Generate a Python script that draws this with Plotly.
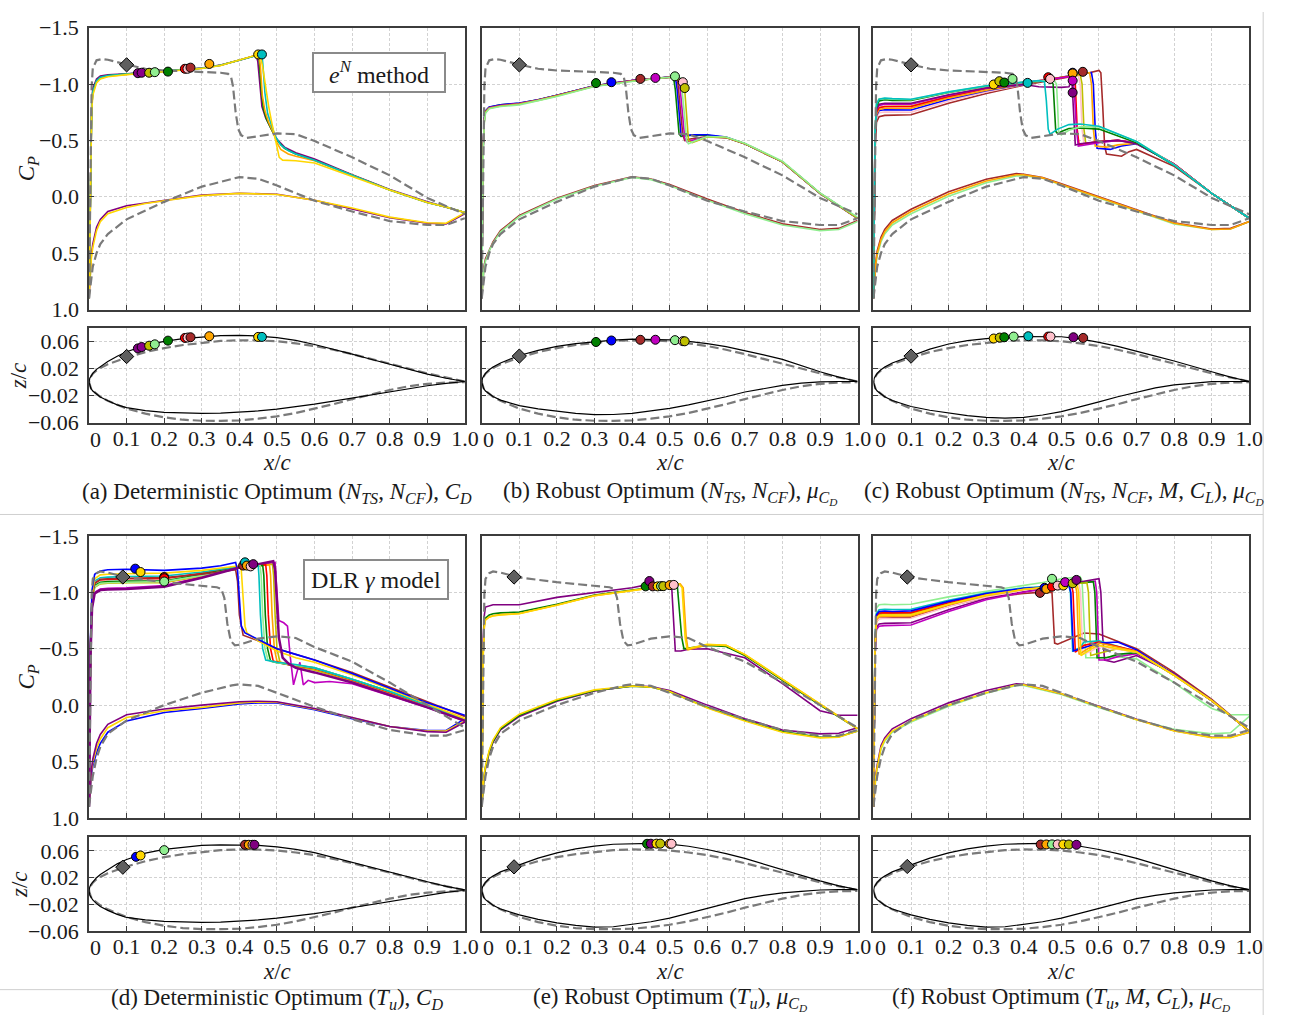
import plotly.graph_objects as go

W, H = 1294, 1028
FONT = "Liberation Serif"

PURPLE = '#800080'; MAGENTA = '#bf00bf'; ORANGE = '#ffa500'; GOLD = '#ffd700'; CYAN = '#00bfbf'
GREEN = '#008000'; LGREEN = '#90ee90'; RED = '#ff0000'; PINK = '#ffc0cb'; BROWN = '#a52a2a'
BLUE = '#0000ff'; OLIVE = '#bfbf00'; DMAG = '#8b008b'; BASEGRAY = '#7a7a7a'

X_TICKS = [0, 0.1, 0.2, 0.3, 0.4, 0.5, 0.6, 0.7, 0.8, 0.9, 1.0]
X_TICK_TEXT = ['', '0.1', '0.2', '0.3', '0.4', '0.5', '0.6', '0.7', '0.8', '0.9', '1.0']
X_ZERO_LABEL = '0'
CP_TICKS = [-1.5, -1.0, -0.5, 0.0, 0.5, 1.0]
CP_TICK_TEXT = ['−1.5', '−1.0', '−0.5', '0.0', '0.5', '1.0']
Z_TICKS = [-0.06, -0.02, 0.02, 0.06]
Z_TICK_TEXT = ['−0.06', '−0.02', '0.02', '0.06']

# ---------------- baseline (dashed) Cp ----------------
TOP_BASE_UP = [(0, 0.9), (0.002, 0.25), (0.004, -0.55), (0.007, -0.98), (0.01, -1.14), (0.02, -1.21), (0.035, -1.222),
               (0.05, -1.215), (0.1, -1.172), (0.15, -1.135), (0.2, -1.12), (0.3, -1.108), (0.35, -1.1), (0.37, -1.09),
               (0.378, -1.06), (0.383, -0.98), (0.39, -0.75), (0.397, -0.6), (0.405, -0.545), (0.42, -0.522),
               (0.45, -0.535), (0.5, -0.562), (0.55, -0.555), (0.6, -0.495), (0.7, -0.35), (0.8, -0.19), (0.9, 0.01),
               (0.95, 0.085), (1.0, 0.155)]
TOP_BASE_LO = [(0, 0.9), (0.003, 0.8), (0.006, 0.7), (0.01, 0.62), (0.02, 0.5), (0.03, 0.42), (0.05, 0.33), (0.1, 0.2),
               (0.2, 0.045), (0.3, -0.09), (0.4, -0.175), (0.45, -0.16), (0.5, -0.1), (0.6, 0.035), (0.7, 0.13),
               (0.8, 0.215), (0.9, 0.25), (0.95, 0.25), (1.0, 0.19)]
BOT_BASE_UP = [(0, 0.9), (0.002, 0.25), (0.004, -0.55), (0.007, -0.98), (0.01, -1.12), (0.02, -1.17), (0.03, -1.185),
               (0.05, -1.175), (0.09, -1.14), (0.1, -1.132), (0.2, -1.09), (0.3, -1.058), (0.34, -1.045), (0.352, -1.03),
               (0.36, -0.95), (0.368, -0.72), (0.377, -0.57), (0.388, -0.53), (0.4, -0.535), (0.45, -0.59), (0.5, -0.61),
               (0.55, -0.595), (0.6, -0.515), (0.7, -0.385), (0.8, -0.2), (0.9, 0.0), (0.95, 0.1), (1.0, 0.2)]
BOT_BASE_LO = [(0, 0.9), (0.003, 0.8), (0.006, 0.7), (0.01, 0.63), (0.02, 0.47), (0.03, 0.37), (0.05, 0.255),
               (0.1, 0.135), (0.2, 0.0), (0.3, -0.11), (0.38, -0.175), (0.4, -0.185), (0.45, -0.17), (0.5, -0.11),
               (0.6, 0.015), (0.7, 0.125), (0.8, 0.22), (0.9, 0.27), (0.95, 0.27), (1.0, 0.22)]

# ---------------- panel (a) ----------------
A_UP_PURPLE = [(0, 0.9), (0.002, 0.3), (0.004, -0.45), (0.007, -0.82), (0.01, -0.96), (0.02, -1.045), (0.03, -1.07),
               (0.05, -1.082), (0.1, -1.09), (0.15, -1.1), (0.2, -1.112), (0.3, -1.142), (0.35, -1.168), (0.4, -1.21),
               (0.445, -1.255), (0.449, -1.2), (0.454, -0.98), (0.46, -0.8), (0.47, -0.7), (0.48, -0.63), (0.49, -0.57),
               (0.5, -0.51), (0.52, -0.44), (0.55, -0.39), (0.6, -0.335), (0.7, -0.195), (0.8, -0.065), (0.9, 0.045),
               (0.95, 0.09), (1.0, 0.14)]
A_UP_GREEN = [(0, 0.9), (0.002, 0.3), (0.004, -0.4), (0.007, -0.78), (0.01, -0.93), (0.02, -1.03), (0.03, -1.06),
              (0.05, -1.075), (0.1, -1.088), (0.15, -1.1), (0.2, -1.11), (0.3, -1.14), (0.35, -1.166), (0.4, -1.21),
              (0.45, -1.258), (0.453, -1.2), (0.458, -0.95), (0.464, -0.78), (0.472, -0.69), (0.482, -0.62),
              (0.49, -0.57), (0.5, -0.5), (0.52, -0.43), (0.55, -0.38), (0.6, -0.325), (0.7, -0.19), (0.8, -0.06),
              (0.9, 0.05), (0.95, 0.09), (1.0, 0.14)]
A_UP_ORANGE = [(0, 0.9), (0.002, 0.3), (0.004, -0.4), (0.007, -0.78), (0.01, -0.92), (0.02, -1.02), (0.03, -1.05),
               (0.05, -1.07), (0.1, -1.085), (0.15, -1.1), (0.2, -1.11), (0.3, -1.14), (0.35, -1.165), (0.4, -1.21),
               (0.452, -1.262), (0.456, -1.15), (0.461, -0.9), (0.468, -0.76), (0.478, -0.66), (0.49, -0.57),
               (0.5, -0.48), (0.51, -0.42), (0.53, -0.38), (0.55, -0.36), (0.6, -0.32), (0.7, -0.19), (0.8, -0.06),
               (0.9, 0.05), (0.95, 0.09), (1.0, 0.14)]
A_UP_CYAN = [(0, 0.9), (0.002, 0.3), (0.004, -0.4), (0.007, -0.78), (0.01, -0.93), (0.02, -1.03), (0.03, -1.06),
             (0.05, -1.075), (0.1, -1.088), (0.15, -1.1), (0.2, -1.11), (0.3, -1.14), (0.35, -1.166), (0.4, -1.21),
             (0.46, -1.265), (0.463, -1.15), (0.468, -0.92), (0.475, -0.74), (0.485, -0.63), (0.495, -0.54),
             (0.51, -0.46), (0.53, -0.41), (0.55, -0.38), (0.6, -0.325), (0.7, -0.19), (0.8, -0.06), (0.9, 0.05),
             (0.95, 0.09), (1.0, 0.14)]
A_UP_GOLD = [(0, 0.9), (0.002, 0.3), (0.004, -0.38), (0.007, -0.75), (0.01, -0.9), (0.02, -1.01), (0.03, -1.045),
             (0.05, -1.065), (0.1, -1.083), (0.15, -1.098), (0.2, -1.108), (0.3, -1.138), (0.35, -1.164), (0.4, -1.21),
             (0.455, -1.265), (0.462, -1.15), (0.47, -0.95), (0.478, -0.8), (0.486, -0.66), (0.494, -0.53),
             (0.5, -0.42), (0.506, -0.35), (0.515, -0.325), (0.55, -0.32), (0.6, -0.3), (0.7, -0.18), (0.8, -0.06),
             (0.9, 0.05), (0.95, 0.09), (1.0, 0.14)]
A_LO_GOLD = [(0, 0.9), (0.003, 0.7), (0.006, 0.55), (0.01, 0.45), (0.02, 0.3), (0.03, 0.22), (0.05, 0.15), (0.1, 0.095),
             (0.15, 0.06), (0.2, 0.035), (0.3, -0.01), (0.4, -0.03), (0.5, -0.02), (0.6, 0.03), (0.7, 0.1), (0.8, 0.18),
             (0.9, 0.23), (0.95, 0.235), (1.0, 0.14)]
A_LO_PURPLE = [(0, 0.9), (0.003, 0.68), (0.006, 0.52), (0.01, 0.42), (0.02, 0.27), (0.03, 0.2), (0.05, 0.13),
               (0.1, 0.08), (0.15, 0.055), (0.2, 0.03), (0.3, -0.015), (0.4, -0.032), (0.5, -0.022), (0.6, 0.03),
               (0.7, 0.105), (0.8, 0.185), (0.9, 0.235), (0.95, 0.24), (1.0, 0.15)]
A_MK_X = [0.13, 0.14, 0.16, 0.175, 0.21, 0.255, 0.262, 0.27, 0.32, 0.45, 0.46]
A_MK_CP = [-1.096, -1.1, -1.1, -1.105, -1.11, -1.135, -1.135, -1.145, -1.178, -1.262, -1.262]
A_MK_Z = [0.05, 0.052, 0.054, 0.056, 0.0615, 0.0655, 0.066, 0.0665, 0.068, 0.067, 0.067]
A_MK_C = [PURPLE, DMAG, OLIVE, LGREEN, GREEN, RED, PINK, BROWN, ORANGE, GOLD, CYAN]
A_DIA = (0.1, -1.17, 0.038)

# ---------------- panel (b) ----------------
B_UP_GREEN = [(0, 0.9), (0.002, 0.2), (0.004, -0.45), (0.007, -0.7), (0.01, -0.76), (0.02, -0.795), (0.05, -0.815),
              (0.1, -0.83), (0.15, -0.86), (0.2, -0.9), (0.3, -0.985), (0.4, -1.03), (0.45, -1.045), (0.5, -1.06),
              (0.51, -1.065), (0.515, -0.95), (0.52, -0.75), (0.525, -0.56), (0.53, -0.535), (0.56, -0.545),
              (0.6, -0.545), (0.65, -0.525), (0.7, -0.47), (0.8, -0.31), (0.9, -0.03), (0.95, 0.08), (1.0, 0.19)]
B_UP_BLUE = [(0, 0.9), (0.002, 0.2), (0.004, -0.45), (0.007, -0.7), (0.01, -0.762), (0.02, -0.797), (0.05, -0.816),
             (0.1, -0.831), (0.15, -0.861), (0.2, -0.9), (0.3, -0.985), (0.4, -1.03), (0.45, -1.045), (0.5, -1.06),
             (0.515, -1.065), (0.52, -0.95), (0.525, -0.75), (0.53, -0.56), (0.535, -0.54), (0.56, -0.55),
             (0.6, -0.55), (0.65, -0.53), (0.7, -0.47), (0.8, -0.31), (0.9, -0.03), (0.95, 0.08), (1.0, 0.19)]
B_UP_BROWN = [(0, 0.9), (0.002, 0.2), (0.004, -0.45), (0.007, -0.69), (0.01, -0.755), (0.02, -0.79), (0.05, -0.81),
              (0.1, -0.826), (0.15, -0.858), (0.2, -0.898), (0.3, -0.983), (0.4, -1.03), (0.45, -1.045), (0.5, -1.06),
              (0.52, -1.065), (0.525, -0.9), (0.53, -0.7), (0.535, -0.55), (0.54, -0.5), (0.55, -0.51), (0.6, -0.535),
              (0.65, -0.525), (0.7, -0.47), (0.8, -0.31), (0.9, -0.03), (0.95, 0.08), (1.0, 0.19)]
B_UP_MAGENTA = [(0, 0.9), (0.002, 0.2), (0.004, -0.45), (0.007, -0.69), (0.01, -0.755), (0.02, -0.79), (0.05, -0.81),
                (0.1, -0.826), (0.15, -0.858), (0.2, -0.898), (0.3, -0.983), (0.4, -1.03), (0.45, -1.047),
                (0.5, -1.062), (0.525, -1.065), (0.53, -0.9), (0.535, -0.7), (0.54, -0.52), (0.545, -0.49),
                (0.56, -0.5), (0.6, -0.53), (0.65, -0.525), (0.7, -0.47), (0.8, -0.31), (0.9, -0.03), (0.95, 0.08),
                (1.0, 0.19)]
B_UP_LGREEN = [(0, 0.9), (0.002, 0.2), (0.004, -0.42), (0.007, -0.66), (0.01, -0.74), (0.02, -0.78), (0.05, -0.8),
               (0.1, -0.815), (0.15, -0.85), (0.2, -0.89), (0.3, -0.978), (0.4, -1.025), (0.45, -1.045), (0.5, -1.06),
               (0.515, -1.07), (0.53, -1.05), (0.535, -0.9), (0.54, -0.7), (0.545, -0.5), (0.55, -0.47), (0.57, -0.5),
               (0.6, -0.535), (0.65, -0.53), (0.7, -0.475), (0.8, -0.315), (0.9, -0.035), (0.95, 0.075), (1.0, 0.18)]
B_UP_OLIVE = [(0, 0.9), (0.002, 0.2), (0.004, -0.44), (0.007, -0.68), (0.01, -0.75), (0.02, -0.785), (0.05, -0.805),
              (0.1, -0.822), (0.15, -0.855), (0.2, -0.895), (0.3, -0.98), (0.4, -1.027), (0.45, -1.045), (0.5, -1.06),
              (0.52, -1.05), (0.53, -1.02), (0.54, -0.95), (0.545, -0.7), (0.55, -0.5), (0.56, -0.48), (0.6, -0.53),
              (0.65, -0.525), (0.7, -0.47), (0.8, -0.31), (0.9, -0.03), (0.95, 0.08), (1.0, 0.19)]
B_LO_MAIN = [(0, 0.9), (0.003, 0.74), (0.006, 0.62), (0.01, 0.55), (0.02, 0.47), (0.03, 0.4), (0.05, 0.3), (0.1, 0.165),
             (0.2, 0.012), (0.3, -0.1), (0.4, -0.178), (0.45, -0.158), (0.5, -0.11), (0.6, 0.02), (0.7, 0.14),
             (0.8, 0.24), (0.9, 0.29), (0.95, 0.28), (1.0, 0.21)]
B_LO_LGREEN = [(0, 0.9), (0.003, 0.75), (0.006, 0.64), (0.01, 0.57), (0.02, 0.48), (0.03, 0.41), (0.05, 0.31),
               (0.1, 0.175), (0.2, 0.02), (0.3, -0.093), (0.4, -0.172), (0.45, -0.152), (0.5, -0.1), (0.6, 0.03),
               (0.7, 0.15), (0.8, 0.25), (0.9, 0.3), (0.95, 0.29), (1.0, 0.22)]
B_MK_X = [0.304, 0.345, 0.422, 0.462, 0.514, 0.535, 0.54]
B_MK_CP = [-1.008, -1.016, -1.045, -1.054, -1.068, -1.016, -0.964]
B_MK_Z = [0.0595, 0.0617, 0.0627, 0.0628, 0.0622, 0.0607, 0.0605]
B_MK_C = [GREEN, BLUE, BROWN, MAGENTA, LGREEN, PINK, OLIVE]
B_DIA = (0.1, -1.17, 0.0386)

# ---------------- panel (c) ----------------
C_UP_CYAN = [(0, 0.9), (0.002, 0.2), (0.004, -0.55), (0.008, -0.82), (0.015, -0.865), (0.03, -0.875), (0.05, -0.87),
             (0.1, -0.865), (0.2, -0.93), (0.3, -0.985), (0.4, -1.02), (0.44, -1.03), (0.455, -1.02), (0.46, -0.85),
             (0.465, -0.6), (0.47, -0.555), (0.49, -0.6), (0.52, -0.64), (0.55, -0.645), (0.6, -0.625), (0.7, -0.49),
             (0.8, -0.28), (0.9, -0.03), (1.0, 0.19)]
C_UP_GREEN = [(0, 0.9), (0.002, 0.2), (0.004, -0.5), (0.008, -0.8), (0.015, -0.85), (0.03, -0.86), (0.05, -0.855),
              (0.1, -0.855), (0.2, -0.925), (0.3, -0.98), (0.4, -1.015), (0.45, -1.025), (0.47, -1.03), (0.478, -1.0),
              (0.482, -0.8), (0.485, -0.58), (0.49, -0.56), (0.5, -0.58), (0.52, -0.605), (0.55, -0.61), (0.6, -0.6),
              (0.7, -0.48), (0.8, -0.28), (0.9, -0.03), (1.0, 0.19)]
C_UP_LGREEN = [(0, 0.9), (0.002, 0.2), (0.004, -0.55), (0.008, -0.83), (0.015, -0.87), (0.03, -0.872),
               (0.05, -0.866), (0.1, -0.86), (0.2, -0.928), (0.3, -0.982), (0.4, -1.018), (0.45, -1.03), (0.48, -1.035),
               (0.487, -1.0), (0.49, -0.8), (0.493, -0.56), (0.5, -0.55), (0.52, -0.59), (0.55, -0.62), (0.6, -0.62),
               (0.7, -0.49), (0.8, -0.285), (0.9, -0.03), (1.0, 0.19)]
C_UP_PURPLE = [(0, 0.9), (0.002, 0.2), (0.004, -0.5), (0.008, -0.78), (0.015, -0.82), (0.03, -0.83), (0.05, -0.83),
               (0.1, -0.83), (0.2, -0.905), (0.3, -0.965), (0.4, -0.995), (0.44, -0.975), (0.5, -0.97), (0.52, -0.975),
               (0.528, -1.03), (0.532, -0.8), (0.537, -0.46), (0.55, -0.47), (0.6, -0.49), (0.65, -0.5), (0.7, -0.47),
               (0.8, -0.29), (0.9, -0.03), (1.0, 0.19)]
C_UP_MAGENTA = [(0, 0.9), (0.002, 0.2), (0.004, -0.5), (0.008, -0.77), (0.015, -0.81), (0.03, -0.82), (0.05, -0.82),
                (0.1, -0.82), (0.2, -0.9), (0.3, -0.965), (0.4, -1.01), (0.45, -1.035), (0.5, -1.06), (0.53, -1.07),
                (0.535, -0.9), (0.54, -0.6), (0.545, -0.45), (0.56, -0.46), (0.6, -0.48), (0.65, -0.5), (0.7, -0.48),
                (0.8, -0.29), (0.9, -0.03), (1.0, 0.19)]
C_UP_RED = [(0, 0.9), (0.002, 0.2), (0.004, -0.48), (0.008, -0.75), (0.015, -0.79), (0.03, -0.8), (0.05, -0.8),
            (0.1, -0.8), (0.2, -0.89), (0.3, -0.96), (0.4, -1.008), (0.45, -1.035), (0.5, -1.06), (0.53, -1.072),
            (0.537, -1.0), (0.542, -0.6), (0.547, -0.46), (0.56, -0.47), (0.6, -0.49), (0.65, -0.5), (0.7, -0.48),
            (0.8, -0.29), (0.9, -0.03), (1.0, 0.19)]
C_UP_OLIVE = [(0, 0.9), (0.002, 0.2), (0.004, -0.48), (0.008, -0.75), (0.015, -0.79), (0.03, -0.8), (0.05, -0.8),
              (0.1, -0.805), (0.2, -0.89), (0.3, -0.96), (0.4, -1.008), (0.45, -1.035), (0.5, -1.06), (0.55, -1.085),
              (0.555, -1.0), (0.56, -0.6), (0.565, -0.47), (0.6, -0.49), (0.65, -0.5), (0.7, -0.475), (0.8, -0.29),
              (0.9, -0.03), (1.0, 0.19)]
C_UP_ORANGE = [(0, 0.9), (0.002, 0.2), (0.004, -0.46), (0.008, -0.73), (0.015, -0.775), (0.03, -0.785),
               (0.05, -0.785), (0.1, -0.786), (0.2, -0.875), (0.3, -0.944), (0.4, -1.0), (0.45, -1.03), (0.5, -1.06),
               (0.55, -1.09), (0.575, -1.1), (0.58, -1.0), (0.585, -0.6), (0.59, -0.45), (0.62, -0.44), (0.65, -0.46),
               (0.7, -0.475), (0.8, -0.29), (0.9, -0.03), (1.0, 0.19)]
C_UP_BLUE = [(0, 0.9), (0.002, 0.2), (0.004, -0.45), (0.008, -0.72), (0.015, -0.765), (0.03, -0.772), (0.05, -0.77),
             (0.1, -0.77), (0.2, -0.865), (0.3, -0.94), (0.4, -0.998), (0.45, -1.03), (0.5, -1.06), (0.55, -1.09),
             (0.58, -1.1), (0.585, -1.0), (0.59, -0.6), (0.595, -0.43), (0.63, -0.42), (0.66, -0.45), (0.7, -0.47),
             (0.8, -0.29), (0.9, -0.03), (1.0, 0.19)]
C_UP_PINK = [(0, 0.9), (0.002, 0.2), (0.004, -0.43), (0.008, -0.7), (0.015, -0.745), (0.03, -0.752), (0.05, -0.75),
             (0.1, -0.75), (0.2, -0.85), (0.3, -0.93), (0.4, -0.995), (0.45, -1.03), (0.5, -1.06), (0.545, -1.08),
             (0.55, -1.0), (0.555, -0.6), (0.56, -0.47), (0.6, -0.49), (0.65, -0.5), (0.7, -0.475), (0.8, -0.29),
             (0.9, -0.03), (1.0, 0.19)]
C_UP_BROWN = [(0, 0.9), (0.002, 0.2), (0.004, -0.4), (0.008, -0.66), (0.015, -0.71), (0.03, -0.722), (0.05, -0.725),
              (0.1, -0.728), (0.2, -0.83), (0.3, -0.915), (0.4, -0.99), (0.5, -1.05), (0.55, -1.08), (0.6, -1.12),
              (0.605, -1.1), (0.61, -0.8), (0.615, -0.45), (0.62, -0.38), (0.64, -0.37), (0.66, -0.36), (0.68, -0.4),
              (0.7, -0.42), (0.8, -0.27), (0.9, -0.03), (1.0, 0.19)]
C_LO_GOLD = [(0, 0.9), (0.003, 0.72), (0.006, 0.6), (0.01, 0.5), (0.02, 0.38), (0.03, 0.31), (0.05, 0.23),
             (0.1, 0.13), (0.2, -0.025), (0.3, -0.14), (0.38, -0.195), (0.4, -0.195), (0.45, -0.168), (0.5, -0.11),
             (0.6, 0.005), (0.7, 0.12), (0.8, 0.235), (0.9, 0.29), (0.95, 0.285), (1.0, 0.22)]
C_LO_BROWN = [(0, 0.9), (0.003, 0.7), (0.006, 0.58), (0.01, 0.48), (0.02, 0.36), (0.03, 0.29), (0.05, 0.21),
              (0.1, 0.11), (0.2, -0.045), (0.3, -0.155), (0.38, -0.205), (0.4, -0.2), (0.45, -0.17), (0.5, -0.115),
              (0.6, 0.0), (0.7, 0.115), (0.8, 0.23), (0.9, 0.285), (0.95, 0.28), (1.0, 0.22)]
C_LO_LGREEN = [(0, 0.9), (0.003, 0.74), (0.006, 0.62), (0.01, 0.52), (0.02, 0.4), (0.03, 0.33), (0.05, 0.25),
               (0.1, 0.15), (0.2, -0.005), (0.3, -0.125), (0.38, -0.185), (0.4, -0.188), (0.45, -0.165), (0.5, -0.105),
               (0.6, 0.01), (0.7, 0.125), (0.8, 0.24), (0.9, 0.29), (0.95, 0.285), (1.0, 0.22)]
C_MK_X = [0.32, 0.335, 0.348, 0.37, 0.41, 0.465, 0.47, 0.53, 0.53, 0.53, 0.53, 0.557]
C_MK_CP = [-0.996, -1.025, -1.013, -1.045, -1.01, -1.06, -1.045, -1.1, -1.094, -1.03, -0.924, -1.108]
C_MK_C = [GOLD, OLIVE, GREEN, LGREEN, CYAN, RED, PINK, BLUE, ORANGE, MAGENTA, PURPLE, BROWN]
C_MKZ_X = [0.32, 0.336, 0.348, 0.373, 0.412, 0.465, 0.471, 0.532, 0.558]
C_MKZ_Z = [0.0646, 0.066, 0.0665, 0.0675, 0.068, 0.0675, 0.0675, 0.0665, 0.0655]
C_MKZ_C = [GOLD, OLIVE, GREEN, LGREEN, CYAN, RED, PINK, PURPLE, BROWN]
C_DIA = (0.1, -1.17, 0.0386)

# ---------------- panel (d) ----------------
D_UP_BLUE = [(0, 0.9), (0.002, 0.2), (0.004, -0.6), (0.008, -1.02), (0.015, -1.16), (0.03, -1.19), (0.05, -1.2),
             (0.1, -1.205), (0.2, -1.195), (0.3, -1.215), (0.35, -1.235), (0.39, -1.265), (0.395, -1.2), (0.4, -0.95),
             (0.405, -0.7), (0.415, -0.64), (0.45, -0.58), (0.5, -0.5), (0.55, -0.45), (0.6, -0.4), (0.7, -0.28),
             (0.8, -0.15), (0.9, -0.02), (1.0, 0.09)]
D_UP_GOLD = [(0, 0.9), (0.002, 0.2), (0.004, -0.55), (0.008, -0.98), (0.015, -1.12), (0.03, -1.155), (0.05, -1.16),
             (0.1, -1.165), (0.2, -1.17), (0.3, -1.195), (0.35, -1.215), (0.4, -1.235), (0.405, -1.2), (0.41, -0.95),
             (0.415, -0.7), (0.42, -0.64), (0.45, -0.57), (0.5, -0.48), (0.55, -0.42), (0.6, -0.38), (0.7, -0.27),
             (0.8, -0.14), (0.9, -0.01), (1.0, 0.12)]
D_UP_BROWN = [(0, 0.9), (0.002, 0.2), (0.004, -0.55), (0.008, -0.95), (0.015, -1.08), (0.03, -1.115), (0.05, -1.12),
              (0.1, -1.125), (0.2, -1.13), (0.3, -1.16), (0.35, -1.18), (0.39, -1.2), (0.395, -1.1), (0.4, -0.8),
              (0.41, -0.62), (0.45, -0.57), (0.5, -0.5), (0.6, -0.4), (0.7, -0.29), (0.8, -0.16), (0.9, -0.03),
              (1.0, 0.1)]
D_UP_CYAN = [(0, 0.9), (0.002, 0.2), (0.004, -0.55), (0.008, -0.96), (0.015, -1.1), (0.03, -1.13), (0.05, -1.135),
             (0.1, -1.14), (0.2, -1.145), (0.3, -1.18), (0.4, -1.23), (0.45, -1.24), (0.452, -1.15), (0.456, -0.8),
             (0.462, -0.5), (0.47, -0.4), (0.5, -0.38), (0.55, -0.36), (0.6, -0.33), (0.7, -0.23), (0.8, -0.12),
             (0.9, 0.0), (1.0, 0.13)]
D_UP_LGREEN = [(0, 0.9), (0.002, 0.2), (0.004, -0.5), (0.008, -0.92), (0.015, -1.05), (0.03, -1.08), (0.05, -1.085),
               (0.1, -1.09), (0.2, -1.095), (0.3, -1.15), (0.4, -1.215), (0.455, -1.24), (0.458, -1.15), (0.462, -0.8),
               (0.468, -0.5), (0.476, -0.4), (0.5, -0.375), (0.6, -0.33), (0.7, -0.23), (0.8, -0.12), (0.9, 0.0),
               (1.0, 0.13)]
D_UP_GREEN = [(0, 0.9), (0.002, 0.2), (0.004, -0.52), (0.008, -0.93), (0.015, -1.06), (0.03, -1.09), (0.05, -1.095),
              (0.1, -1.1), (0.2, -1.1), (0.3, -1.16), (0.4, -1.22), (0.462, -1.24), (0.465, -1.15), (0.469, -0.8),
              (0.475, -0.5), (0.483, -0.39), (0.5, -0.375), (0.6, -0.33), (0.7, -0.23), (0.8, -0.12), (0.9, 0.0),
              (1.0, 0.13)]
D_UP_RED = [(0, 0.9), (0.002, 0.2), (0.004, -0.53), (0.008, -0.94), (0.015, -1.08), (0.03, -1.11), (0.05, -1.115),
            (0.1, -1.12), (0.2, -1.12), (0.3, -1.17), (0.4, -1.225), (0.47, -1.245), (0.473, -1.15), (0.477, -0.8),
            (0.483, -0.5), (0.49, -0.39), (0.52, -0.365), (0.6, -0.325), (0.7, -0.225), (0.8, -0.115), (0.9, 0.0),
            (1.0, 0.13)]
D_UP_ORANGE = [(0, 0.9), (0.002, 0.2), (0.004, -0.5), (0.008, -0.92), (0.015, -1.05), (0.03, -1.08), (0.05, -1.085),
               (0.1, -1.09), (0.2, -1.09), (0.3, -1.15), (0.4, -1.215), (0.48, -1.245), (0.483, -1.15), (0.487, -0.8),
               (0.493, -0.5), (0.5, -0.39), (0.53, -0.36), (0.6, -0.32), (0.7, -0.22), (0.8, -0.11), (0.9, 0.005),
               (1.0, 0.13)]
D_UP_OLIVE = [(0, 0.9), (0.002, 0.2), (0.004, -0.5), (0.008, -0.91), (0.015, -1.045), (0.03, -1.075), (0.05, -1.08),
              (0.1, -1.085), (0.2, -1.085), (0.3, -1.145), (0.4, -1.215), (0.488, -1.25), (0.491, -1.15),
              (0.495, -0.8), (0.5, -0.5), (0.508, -0.38), (0.54, -0.35), (0.6, -0.31), (0.7, -0.215), (0.8, -0.105),
              (0.9, 0.01), (1.0, 0.13)]
D_UP_PURPLE = [(0, 0.9), (0.002, 0.2), (0.004, -0.45), (0.008, -0.86), (0.015, -0.99), (0.03, -1.02), (0.05, -1.025),
               (0.1, -1.03), (0.2, -1.05), (0.3, -1.13), (0.4, -1.22), (0.45, -1.25), (0.49, -1.275), (0.495, -1.2),
               (0.5, -0.9), (0.505, -0.6), (0.515, -0.42), (0.53, -0.37), (0.55, -0.33), (0.6, -0.29), (0.7, -0.2),
               (0.8, -0.09), (0.9, 0.02), (1.0, 0.14)]
D_UP_MAGENTA = [(0, 0.9), (0.002, 0.2), (0.004, -0.46), (0.008, -0.87), (0.015, -1.0), (0.03, -1.03), (0.05, -1.035),
                (0.1, -1.04), (0.2, -1.06), (0.3, -1.135), (0.4, -1.22), (0.45, -1.245), (0.495, -1.265), (0.5, -1.0),
                (0.505, -0.75), (0.518, -0.73), (0.528, -0.7), (0.535, -0.44), (0.544, -0.18), (0.553, -0.29),
                (0.561, -0.38), (0.57, -0.18), (0.583, -0.22), (0.6, -0.2), (0.64, -0.21), (0.7, -0.19), (0.8, -0.085),
                (0.9, 0.02), (1.0, 0.14)]
D_LO_BLUE = [(0, 0.9), (0.003, 0.76), (0.006, 0.63), (0.01, 0.54), (0.02, 0.42), (0.03, 0.34), (0.05, 0.24),
             (0.1, 0.14), (0.2, 0.065), (0.3, 0.03), (0.4, -0.01), (0.45, -0.02), (0.5, -0.02), (0.6, 0.04), (0.7, 0.12),
             (0.8, 0.19), (0.9, 0.225), (0.95, 0.225), (1.0, 0.12)]
D_LO_GOLD = [(0, 0.9), (0.003, 0.74), (0.006, 0.6), (0.01, 0.51), (0.02, 0.38), (0.03, 0.3), (0.05, 0.2), (0.1, 0.11),
             (0.2, 0.05), (0.3, 0.02), (0.4, -0.02), (0.45, -0.028), (0.5, -0.025), (0.6, 0.035), (0.7, 0.115),
             (0.8, 0.19), (0.9, 0.23), (0.95, 0.23), (1.0, 0.14)]
D_LO_PURPLE = [(0, 0.9), (0.003, 0.72), (0.006, 0.58), (0.01, 0.48), (0.02, 0.34), (0.03, 0.26), (0.05, 0.17),
               (0.1, 0.085), (0.2, 0.035), (0.3, 0.0), (0.4, -0.03), (0.45, -0.035), (0.5, -0.03), (0.6, 0.03),
               (0.7, 0.11), (0.8, 0.19), (0.9, 0.235), (0.95, 0.24), (1.0, 0.15)]
D_MK_X = [0.123, 0.137, 0.2, 0.2, 0.2, 0.41, 0.415, 0.42, 0.43, 0.437]
D_MK_CP = [-1.21, -1.18, -1.136, -1.125, -1.096, -1.237, -1.266, -1.237, -1.23, -1.25]
D_MK_C = [BLUE, GOLD, BROWN, RED, LGREEN, BROWN, CYAN, ORANGE, PINK, PURPLE]
D_MKZ_X = [0.125, 0.137, 0.2, 0.415, 0.425, 0.435, 0.44]
D_MKZ_Z = [0.051, 0.053, 0.061, 0.069, 0.069, 0.069, 0.069]
D_MKZ_C = [BLUE, GOLD, LGREEN, BROWN, ORANGE, PINK, PURPLE]
D_DIA = (0.09, -1.136, 0.0355)

# ---------------- panel (e) ----------------
E_UP_GOLD = [(0, 0.9), (0.002, 0.2), (0.004, -0.45), (0.007, -0.7), (0.01, -0.755), (0.02, -0.78), (0.03, -0.79),
             (0.05, -0.8), (0.1, -0.81), (0.2, -0.885), (0.3, -0.97), (0.4, -1.015), (0.45, -1.04), (0.5, -1.065),
             (0.525, -1.075), (0.533, -1.04), (0.537, -0.85), (0.541, -0.6), (0.546, -0.5), (0.56, -0.51),
             (0.6, -0.54), (0.65, -0.53), (0.7, -0.45), (0.8, -0.23), (0.9, -0.01), (1.0, 0.21)]
E_UP_ORANGE = [(0, 0.9), (0.002, 0.2), (0.004, -0.45), (0.007, -0.7), (0.01, -0.757), (0.02, -0.782),
               (0.03, -0.792), (0.05, -0.802), (0.1, -0.812), (0.2, -0.887), (0.3, -0.971), (0.4, -1.016),
               (0.45, -1.041), (0.5, -1.066), (0.528, -1.075), (0.536, -1.04), (0.54, -0.85), (0.544, -0.6),
               (0.549, -0.49), (0.56, -0.5), (0.6, -0.535), (0.65, -0.53), (0.7, -0.448), (0.8, -0.228), (0.9, -0.01),
               (1.0, 0.21)]
E_UP_GREEN = [(0, 0.9), (0.002, 0.2), (0.004, -0.47), (0.007, -0.72), (0.01, -0.77), (0.02, -0.8), (0.03, -0.81),
              (0.05, -0.818), (0.1, -0.825), (0.2, -0.895), (0.3, -0.975), (0.4, -1.02), (0.45, -1.045), (0.5, -1.065),
              (0.52, -1.07), (0.525, -0.9), (0.532, -0.6), (0.538, -0.5), (0.56, -0.51), (0.6, -0.53), (0.65, -0.52),
              (0.7, -0.44), (0.8, -0.22), (0.9, 0.0), (1.0, 0.21)]
E_UP_PURPLE = [(0, 0.9), (0.002, 0.2), (0.004, -0.6), (0.007, -0.8), (0.01, -0.87), (0.03, -0.89), (0.1, -0.89),
               (0.2, -0.955), (0.3, -1.0), (0.4, -1.04), (0.45, -1.075), (0.5, -1.08), (0.505, -1.07), (0.51, -0.8),
               (0.515, -0.48), (0.53, -0.48), (0.55, -0.495), (0.6, -0.5), (0.7, -0.42), (0.8, -0.19), (0.9, 0.05),
               (0.95, 0.09), (1.0, 0.09)]
E_LO_GOLD = [(0, 0.9), (0.003, 0.75), (0.006, 0.63), (0.01, 0.54), (0.02, 0.4), (0.03, 0.31), (0.05, 0.2), (0.1, 0.08),
             (0.2, -0.05), (0.3, -0.135), (0.4, -0.17), (0.45, -0.16), (0.5, -0.12), (0.6, 0.025), (0.7, 0.14),
             (0.8, 0.24), (0.9, 0.29), (0.95, 0.285), (1.0, 0.23)]
E_LO_GREEN = [(0, 0.9), (0.003, 0.755), (0.006, 0.64), (0.01, 0.55), (0.02, 0.41), (0.03, 0.32), (0.05, 0.21),
              (0.1, 0.09), (0.2, -0.042), (0.3, -0.13), (0.4, -0.168), (0.45, -0.16), (0.5, -0.118), (0.6, 0.02),
              (0.7, 0.135), (0.8, 0.235), (0.9, 0.285), (0.95, 0.28), (1.0, 0.23)]
E_LO_PURPLE = [(0, 0.9), (0.003, 0.76), (0.006, 0.65), (0.01, 0.56), (0.02, 0.42), (0.03, 0.33), (0.05, 0.22),
               (0.1, 0.1), (0.2, -0.035), (0.3, -0.125), (0.4, -0.17), (0.45, -0.165), (0.5, -0.13), (0.6, 0.0),
               (0.7, 0.12), (0.8, 0.22), (0.9, 0.255), (0.95, 0.25), (1.0, 0.2)]
E_MK_X = [0.436, 0.446, 0.455, 0.468, 0.477, 0.483, 0.5, 0.511]
E_MK_CP = [-1.053, -1.1, -1.053, -1.053, -1.055, -1.055, -1.064, -1.066]
E_MK_C = [GREEN, PURPLE, BROWN, GOLD, LGREEN, OLIVE, ORANGE, PINK]
E_MKZ_X = [0.44, 0.45, 0.465, 0.475, 0.5, 0.505]
E_MKZ_Z = [0.0705, 0.0706, 0.0707, 0.0707, 0.0705, 0.0705]
E_MKZ_C = [GREEN, PURPLE, GOLD, OLIVE, ORANGE, PINK]
E_DIA = (0.086, -1.136, 0.036)

# ---------------- panel (f) ----------------
F_UP_LGREEN = [(0, 0.9), (0.002, 0.2), (0.004, -0.6), (0.008, -0.86), (0.015, -0.89), (0.03, -0.895), (0.05, -0.89),
               (0.1, -0.894), (0.2, -0.96), (0.3, -1.01), (0.4, -1.06), (0.45, -1.087), (0.5, -1.12), (0.55, -1.14),
               (0.555, -1.1), (0.56, -0.7), (0.565, -0.42), (0.6, -0.42), (0.65, -0.43), (0.7, -0.41), (0.8, -0.2),
               (0.85, -0.08), (0.9, 0.03), (0.95, 0.085), (1.0, 0.085)]
F_UP_BLUE = [(0, 0.9), (0.002, 0.2), (0.004, -0.5), (0.008, -0.8), (0.015, -0.83), (0.03, -0.835), (0.05, -0.83),
             (0.1, -0.836), (0.2, -0.92), (0.3, -0.99), (0.4, -1.035), (0.45, -1.045), (0.5, -1.06), (0.52, -1.065),
             (0.525, -1.0), (0.528, -0.7), (0.532, -0.48), (0.55, -0.5), (0.6, -0.55), (0.65, -0.56), (0.7, -0.49),
             (0.8, -0.27), (0.9, -0.04), (1.0, 0.23)]
F_UP_CYAN = [(0, 0.9), (0.002, 0.2), (0.004, -0.52), (0.008, -0.81), (0.015, -0.845), (0.03, -0.85), (0.05, -0.848),
             (0.1, -0.85), (0.2, -0.93), (0.3, -0.995), (0.4, -1.04), (0.45, -1.05), (0.5, -1.06), (0.52, -1.062),
             (0.524, -1.0), (0.527, -0.7), (0.53, -0.48), (0.55, -0.51), (0.56, -0.56), (0.6, -0.57), (0.7, -0.47),
             (0.8, -0.27), (0.9, -0.04), (1.0, 0.23)]
F_UP_RED = [(0, 0.9), (0.002, 0.2), (0.004, -0.5), (0.008, -0.79), (0.015, -0.815), (0.03, -0.82), (0.05, -0.818),
            (0.1, -0.82), (0.2, -0.91), (0.3, -0.985), (0.4, -1.03), (0.45, -1.045), (0.5, -1.06), (0.527, -1.065),
            (0.531, -1.0), (0.534, -0.7), (0.537, -0.47), (0.56, -0.53), (0.6, -0.56), (0.7, -0.48), (0.8, -0.27),
            (0.9, -0.04), (1.0, 0.23)]
F_UP_ORANGE = [(0, 0.9), (0.002, 0.2), (0.004, -0.48), (0.008, -0.76), (0.015, -0.785), (0.03, -0.79),
               (0.05, -0.788), (0.1, -0.79), (0.2, -0.89), (0.3, -0.97), (0.4, -1.025), (0.45, -1.04), (0.5, -1.06),
               (0.537, -1.068), (0.541, -1.0), (0.544, -0.7), (0.547, -0.45), (0.57, -0.5), (0.6, -0.55),
               (0.7, -0.475), (0.8, -0.265), (0.9, -0.04), (1.0, 0.23)]
F_UP_GOLD = [(0, 0.9), (0.002, 0.2), (0.004, -0.49), (0.008, -0.77), (0.015, -0.795), (0.03, -0.8), (0.05, -0.798),
             (0.1, -0.8), (0.2, -0.895), (0.3, -0.975), (0.4, -1.027), (0.45, -1.042), (0.5, -1.06), (0.542, -1.07),
             (0.546, -1.0), (0.549, -0.7), (0.552, -0.44), (0.58, -0.5), (0.6, -0.53), (0.7, -0.47), (0.8, -0.265),
             (0.9, -0.04), (1.0, 0.23)]
F_UP_PINK = [(0, 0.9), (0.002, 0.2), (0.004, -0.46), (0.008, -0.74), (0.015, -0.765), (0.03, -0.77), (0.05, -0.768),
             (0.1, -0.77), (0.2, -0.875), (0.3, -0.96), (0.4, -1.02), (0.45, -1.04), (0.5, -1.06), (0.547, -1.07),
             (0.551, -1.0), (0.554, -0.7), (0.557, -0.45), (0.58, -0.48), (0.6, -0.52), (0.7, -0.47), (0.8, -0.265),
             (0.9, -0.04), (1.0, 0.23)]
F_UP_OLIVE = [(0, 0.9), (0.002, 0.2), (0.004, -0.49), (0.008, -0.78), (0.015, -0.805), (0.03, -0.81), (0.05, -0.808),
              (0.1, -0.81), (0.2, -0.9), (0.3, -0.98), (0.4, -1.03), (0.45, -1.045), (0.5, -1.065), (0.55, -1.08),
              (0.568, -1.085), (0.572, -1.0), (0.575, -0.7), (0.578, -0.44), (0.6, -0.46), (0.65, -0.5),
              (0.7, -0.47), (0.8, -0.265), (0.9, -0.04), (1.0, 0.23)]
F_UP_GREEN = [(0, 0.9), (0.002, 0.2), (0.004, -0.5), (0.008, -0.79), (0.015, -0.815), (0.03, -0.82), (0.05, -0.818),
              (0.1, -0.82), (0.2, -0.905), (0.3, -0.982), (0.4, -1.03), (0.45, -1.045), (0.5, -1.065), (0.55, -1.085),
              (0.585, -1.095), (0.589, -1.0), (0.592, -0.7), (0.595, -0.42), (0.62, -0.42), (0.65, -0.45),
              (0.7, -0.465), (0.8, -0.265), (0.9, -0.04), (1.0, 0.23)]
F_UP_MAGENTA = [(0, 0.9), (0.002, 0.2), (0.004, -0.42), (0.008, -0.67), (0.015, -0.7), (0.03, -0.705),
                (0.05, -0.705), (0.1, -0.71), (0.2, -0.83), (0.3, -0.935), (0.4, -1.0), (0.45, -1.03), (0.5, -1.055),
                (0.55, -1.08), (0.59, -1.1), (0.594, -1.0), (0.597, -0.7), (0.6, -0.4), (0.62, -0.4), (0.65, -0.43),
                (0.7, -0.455), (0.8, -0.27), (0.9, -0.04), (1.0, 0.23)]
F_UP_PURPLE = [(0, 0.9), (0.002, 0.2), (0.004, -0.44), (0.008, -0.69), (0.015, -0.72), (0.03, -0.725),
               (0.05, -0.725), (0.1, -0.73), (0.2, -0.845), (0.3, -0.945), (0.4, -1.005), (0.45, -1.035),
               (0.5, -1.06), (0.55, -1.09), (0.6, -1.12), (0.605, -1.0), (0.61, -0.6), (0.615, -0.4), (0.64, -0.38),
               (0.66, -0.4), (0.7, -0.44), (0.8, -0.28), (0.9, -0.04), (1.0, 0.23)]
F_UP_BROWN = [(0, 0.9), (0.002, 0.2), (0.004, -0.46), (0.008, -0.74), (0.015, -0.77), (0.03, -0.775), (0.05, -0.775),
              (0.1, -0.78), (0.2, -0.88), (0.3, -0.955), (0.4, -0.99), (0.44, -1.0), (0.475, -1.0), (0.478, -0.8),
              (0.482, -0.55), (0.49, -0.54), (0.52, -0.58), (0.56, -0.64), (0.6, -0.63), (0.7, -0.5), (0.8, -0.29),
              (0.9, -0.05), (1.0, 0.23)]
F_LO_PURPLE = [(0, 0.9), (0.003, 0.75), (0.006, 0.62), (0.01, 0.53), (0.02, 0.36), (0.03, 0.29), (0.05, 0.21),
               (0.1, 0.12), (0.2, -0.02), (0.3, -0.13), (0.38, -0.19), (0.4, -0.185), (0.5, -0.1), (0.6, 0.01),
               (0.7, 0.125), (0.8, 0.226), (0.9, 0.285), (0.95, 0.285), (1.0, 0.24)]
F_LO_GOLD = [(0, 0.9), (0.003, 0.76), (0.006, 0.64), (0.01, 0.55), (0.02, 0.38), (0.03, 0.31), (0.05, 0.23),
             (0.1, 0.14), (0.2, 0.0), (0.3, -0.11), (0.38, -0.18), (0.4, -0.18), (0.5, -0.1), (0.6, 0.015),
             (0.7, 0.13), (0.8, 0.23), (0.9, 0.288), (0.95, 0.288), (1.0, 0.24)]
F_LO_LGREEN = [(0, 0.9), (0.003, 0.77), (0.006, 0.65), (0.01, 0.56), (0.02, 0.39), (0.03, 0.32), (0.05, 0.24),
               (0.1, 0.15), (0.2, 0.01), (0.3, -0.105), (0.38, -0.175), (0.4, -0.175), (0.5, -0.095), (0.6, 0.02),
               (0.7, 0.13), (0.8, 0.215), (0.9, 0.255), (0.95, 0.245), (1.0, 0.1)]
F_MK_X = [0.443, 0.455, 0.46, 0.475, 0.475, 0.49, 0.505, 0.51, 0.53, 0.54]
F_MK_CP = [-0.995, -1.04, -1.03, -1.05, -1.12, -1.06, -1.06, -1.09, -1.08, -1.11]
F_MK_C = [BROWN, BLUE, ORANGE, RED, LGREEN, PINK, GOLD, MAGENTA, OLIVE, PURPLE]
F_MKZ_X = [0.445, 0.46, 0.475, 0.49, 0.505, 0.52, 0.54]
F_MKZ_Z = [0.0694, 0.0695, 0.0696, 0.0696, 0.0695, 0.0694, 0.069]
F_MKZ_C = [BROWN, ORANGE, LGREEN, PINK, GOLD, OLIVE, PURPLE]
F_DIA = (0.09, -1.136, 0.0366)

# ---------------- airfoil geometry z/c ----------------
AF_X = [0, 0.002, 0.005, 0.01, 0.02, 0.03, 0.05, 0.075, 0.1, 0.15, 0.2, 0.25, 0.3, 0.35, 0.4, 0.45, 0.5, 0.55, 0.6,
        0.65, 0.7, 0.75, 0.8, 0.85, 0.9, 0.95, 1.0]
BASE_UP = [0, 0.0055, 0.0088, 0.0125, 0.0175, 0.021, 0.0265, 0.032, 0.0365, 0.0445, 0.0505, 0.055, 0.0585, 0.061,
           0.062, 0.0618, 0.0605, 0.0575, 0.0535, 0.048, 0.0415, 0.0348, 0.0275, 0.0203, 0.013, 0.0065, 0.001]
BASE_LO = [0, -0.0055, -0.0088, -0.0125, -0.0175, -0.0215, -0.0275, -0.0335, -0.039, -0.0465, -0.052, -0.0555, -0.057,
           -0.0572, -0.0565, -0.054, -0.0505, -0.0455, -0.0395, -0.0325, -0.025, -0.018, -0.0115, -0.006, -0.0025,
           -0.0005, 0.0]
AF_A_UP = [0, 0.0058, 0.0092, 0.013, 0.019, 0.0235, 0.0305, 0.0385, 0.045, 0.0545, 0.0605, 0.0645, 0.0672, 0.0688,
           0.0692, 0.0683, 0.066, 0.0618, 0.0558, 0.049, 0.0415, 0.034, 0.0262, 0.019, 0.012, 0.0058, 0.001]
AF_A_LO = [0, -0.0058, -0.0092, -0.013, -0.018, -0.022, -0.0275, -0.0335, -0.0375, -0.042, -0.0445, -0.0458, -0.0462,
           -0.0458, -0.0445, -0.0425, -0.0398, -0.0365, -0.0325, -0.028, -0.0235, -0.0187, -0.0142, -0.0095, -0.0052,
           -0.0018, 0.001]
AF_B_UP = [0, 0.0058, 0.0092, 0.013, 0.0185, 0.0225, 0.0285, 0.0345, 0.0395, 0.047, 0.053, 0.057, 0.06, 0.0622, 0.0636,
           0.0637, 0.0627, 0.0605, 0.057, 0.0525, 0.047, 0.0405, 0.0337, 0.025, 0.0154, 0.0075, 0.001]
AF_B_LO = [0, -0.0058, -0.0092, -0.013, -0.0175, -0.0212, -0.0265, -0.031, -0.0347, -0.0395, -0.043, -0.0462, -0.048,
           -0.0478, -0.046, -0.0428, -0.0386, -0.0336, -0.028, -0.0215, -0.0145, -0.0092, -0.0048, -0.0015, 0.0005,
           0.001, 0.001]
AF_C_UP = [0, 0.0058, 0.0092, 0.013, 0.0185, 0.0225, 0.0285, 0.0342, 0.0392, 0.049, 0.0565, 0.0615, 0.0646, 0.0665,
           0.0675, 0.0678, 0.0672, 0.0642, 0.059, 0.053, 0.0458, 0.0385, 0.0313, 0.0235, 0.0154, 0.0075, 0.001]
AF_C_LO = [0, -0.0058, -0.0092, -0.013, -0.0178, -0.0215, -0.027, -0.032, -0.036, -0.0415, -0.0458, -0.0495, -0.052,
           -0.053, -0.052, -0.0485, -0.0434, -0.0365, -0.029, -0.0215, -0.0145, -0.0085, -0.0039, -0.001, 0.0008,
           0.001, 0.001]
AF_D_UP = [0, 0.006, 0.0097, 0.0138, 0.0198, 0.0245, 0.032, 0.0405, 0.047, 0.0565, 0.062, 0.0655, 0.068, 0.069, 0.069,
           0.068, 0.066, 0.0622, 0.0573, 0.0505, 0.0427, 0.0352, 0.028, 0.021, 0.0137, 0.0068, 0.0016]
AF_D_LO = [0, -0.006, -0.0095, -0.0135, -0.019, -0.0232, -0.029, -0.035, -0.0396, -0.0432, -0.0454, -0.0465, -0.0469,
           -0.0465, -0.0454, -0.0433, -0.0406, -0.0375, -0.0338, -0.0296, -0.025, -0.0202, -0.0154, -0.0105, -0.0057,
           -0.002, 0.001]
AF_E_UP = [0, 0.0058, 0.0092, 0.013, 0.0185, 0.0225, 0.0285, 0.0342, 0.039, 0.049, 0.057, 0.0628, 0.067, 0.0698, 0.071,
           0.0712, 0.07, 0.0668, 0.062, 0.0558, 0.0487, 0.0405, 0.032, 0.0235, 0.015, 0.0075, 0.002]
AF_E_LO = [0, -0.0058, -0.0092, -0.013, -0.0178, -0.0215, -0.027, -0.0318, -0.0357, -0.0425, -0.0477, -0.0515, -0.054,
           -0.0535, -0.05, -0.046, -0.0405, -0.0335, -0.026, -0.0185, -0.0116, -0.0065, -0.0029, -0.0005, 0.0014,
           0.002, 0.002]

CAPTIONS = [
    "(a) Deterministic Optimum (<i>N<sub>TS</sub></i>, <i>N<sub>CF</sub></i>), <i>C<sub>D</sub></i>",
    "(b) Robust Optimum (<i>N<sub>TS</sub></i>, <i>N<sub>CF</sub></i>), <i>μ<sub>C<sub>D</sub></sub></i>",
    "(c) Robust Optimum (<i>N<sub>TS</sub></i>, <i>N<sub>CF</sub></i>, <i>M</i>, <i>C<sub>L</sub></i>), <i>μ<sub>C<sub>D</sub></sub></i>",
    "(d) Deterministic Optimum (<i>T<sub>u</sub></i>), <i>C<sub>D</sub></i>",
    "(e) Robust Optimum (<i>T<sub>u</sub></i>), <i>μ<sub>C<sub>D</sub></sub></i>",
    "(f) Robust Optimum (<i>T<sub>u</sub></i>, <i>M</i>, <i>C<sub>L</sub></i>), <i>μ<sub>C<sub>D</sub></sub></i>",
]

PANELS = [
    dict(up=[(A_UP_PURPLE, PURPLE), (A_UP_GREEN, GREEN), (A_UP_ORANGE, ORANGE), (A_UP_CYAN, CYAN), (A_UP_GOLD, GOLD)],
         lo=[(A_LO_PURPLE, PURPLE), (A_LO_GOLD, GOLD)], base=(TOP_BASE_UP, TOP_BASE_LO),
         mk=(A_MK_X, A_MK_CP, A_MK_C), mkz=(A_MK_X, A_MK_Z, A_MK_C), dia=A_DIA, af=(AF_A_UP, AF_A_LO)),
    dict(up=[(B_UP_GREEN, GREEN), (B_UP_BLUE, BLUE), (B_UP_BROWN, BROWN), (B_UP_MAGENTA, MAGENTA),
             (B_UP_OLIVE, OLIVE), (B_UP_LGREEN, LGREEN)],
         lo=[(B_LO_MAIN, BROWN), (B_LO_LGREEN, LGREEN)], base=(TOP_BASE_UP, TOP_BASE_LO),
         mk=(B_MK_X, B_MK_CP, B_MK_C), mkz=(B_MK_X, B_MK_Z, B_MK_C), dia=B_DIA, af=(AF_B_UP, AF_B_LO)),
    dict(up=[(C_UP_BROWN, BROWN), (C_UP_PINK, PINK), (C_UP_BLUE, BLUE), (C_UP_ORANGE, ORANGE), (C_UP_OLIVE, OLIVE),
             (C_UP_RED, RED), (C_UP_MAGENTA, MAGENTA), (C_UP_PURPLE, PURPLE), (C_UP_GREEN, GREEN),
             (C_UP_LGREEN, LGREEN), (C_UP_CYAN, CYAN)],
         lo=[(C_LO_LGREEN, LGREEN), (C_LO_BROWN, BROWN), (C_LO_GOLD, ORANGE)], base=(TOP_BASE_UP, TOP_BASE_LO),
         mk=(C_MK_X, C_MK_CP, C_MK_C), mkz=(C_MKZ_X, C_MKZ_Z, C_MKZ_C), dia=C_DIA, af=(AF_C_UP, AF_C_LO)),
    dict(up=[(D_UP_MAGENTA, MAGENTA), (D_UP_OLIVE, OLIVE), (D_UP_ORANGE, ORANGE), (D_UP_RED, RED),
             (D_UP_GREEN, GREEN), (D_UP_LGREEN, LGREEN), (D_UP_CYAN, CYAN), (D_UP_BROWN, BROWN),
             (D_UP_GOLD, GOLD), (D_UP_BLUE, BLUE), (D_UP_PURPLE, PURPLE)],
         lo=[(D_LO_BLUE, BLUE), (D_LO_GOLD, GOLD), (D_LO_PURPLE, PURPLE)], base=(BOT_BASE_UP, BOT_BASE_LO),
         mk=(D_MK_X, D_MK_CP, D_MK_C), mkz=(D_MKZ_X, D_MKZ_Z, D_MKZ_C), dia=D_DIA, af=(AF_D_UP, AF_D_LO)),
    dict(up=[(E_UP_PURPLE, PURPLE), (E_UP_GREEN, GREEN), (E_UP_ORANGE, ORANGE), (E_UP_GOLD, GOLD)],
         lo=[(E_LO_PURPLE, PURPLE), (E_LO_GREEN, GREEN), (E_LO_GOLD, GOLD)], base=(BOT_BASE_UP, BOT_BASE_LO),
         mk=(E_MK_X, E_MK_CP, E_MK_C), mkz=(E_MKZ_X, E_MKZ_Z, E_MKZ_C), dia=E_DIA, af=(AF_E_UP, AF_E_LO)),
    dict(up=[(F_UP_BROWN, BROWN), (F_UP_LGREEN, LGREEN), (F_UP_PURPLE, PURPLE), (F_UP_MAGENTA, MAGENTA),
             (F_UP_GREEN, GREEN), (F_UP_OLIVE, OLIVE), (F_UP_PINK, PINK), (F_UP_CYAN, CYAN), (F_UP_RED, RED),
             (F_UP_BLUE, BLUE), (F_UP_ORANGE, ORANGE), (F_UP_GOLD, GOLD)],
         lo=[(F_LO_LGREEN, LGREEN), (F_LO_PURPLE, PURPLE), (F_LO_GOLD, GOLD)], base=(BOT_BASE_UP, BOT_BASE_LO),
         mk=(F_MK_X, F_MK_CP, F_MK_C), mkz=(F_MKZ_X, F_MKZ_Z, F_MKZ_C), dia=F_DIA, af=(AF_E_UP, AF_E_LO)),
]

# ---------------- layout geometry (pixels) ----------------
COLS = [(90, 470), (487, 867), (883, 1263)]
CP_ROWS = [(16, 305), (537, 826)]
Z_ROWS = [(324, 421), (846, 942)]
TICK_SIZE = 22
TEXT_SIZE = 23


def xd(a, b):
    return [a / W, b / W]


def yd(top, bot):
    return [1 - bot / H, 1 - top / H]


fig = go.Figure()
layout = dict(width=W, height=H, margin=dict(l=0, r=0, t=0, b=0), paper_bgcolor='white', plot_bgcolor='white',
              showlegend=False, font=dict(family=FONT, size=TICK_SIZE, color='#1a1a1a'))
annotations = []
shapes = []


def ax_names(n):
    return ('x' if n == 1 else f'x{n}', 'y' if n == 1 else f'y{n}',
            'xaxis' if n == 1 else f'xaxis{n}', 'yaxis' if n == 1 else f'yaxis{n}')


def frame_axis(**kw):
    d = dict(showline=True, mirror=True, linecolor='#3c3c3c', linewidth=1.5, ticks='inside', ticklen=5,
             tickwidth=1, tickcolor='#3c3c3c', showgrid=True, gridcolor='#d2d2d2', griddash='3px,2px',
             gridwidth=1, zeroline=False, tickfont=dict(family=FONT, size=TICK_SIZE, color='#1a1a1a'))
    d.update(kw)
    return d


def line_trace(pts, color, xr, yr, width=1.6, dash=None):
    return go.Scatter(x=[p[0] for p in pts], y=[p[1] for p in pts], mode='lines',
                      line=dict(color=color, width=width, dash=dash), xaxis=xr, yaxis=yr, hoverinfo='skip')


for i, P in enumerate(PANELS):
    g, c = divmod(i, 3)
    n_cp = g * 6 + c * 2 + 1
    n_z = n_cp + 1
    xr, yr, xk, yk = ax_names(n_cp)
    zxr, zyr, zxk, zyk = ax_names(n_z)
    x0, x1 = COLS[c]

    layout[xk] = frame_axis(domain=xd(x0, x1), range=[0, 1], tickvals=X_TICKS, showticklabels=False, anchor=yr)
    layout[yk] = frame_axis(domain=yd(*CP_ROWS[g]), range=[1.0, -1.5], tickvals=CP_TICKS, ticktext=CP_TICK_TEXT,
                            showticklabels=(c == 0), anchor=xr, ticklabelstandoff=4)
    layout[zxk] = frame_axis(domain=xd(x0, x1), range=[0, 1], tickvals=X_TICKS, ticktext=X_TICK_TEXT, anchor=zyr,
                             ticklabelstandoff=-5)
    layout[zyk] = frame_axis(domain=yd(*Z_ROWS[g]), range=[-0.06, 0.08], tickvals=Z_TICKS, ticktext=Z_TICK_TEXT,
                             showticklabels=(c == 0), anchor=zxr, ticklabelstandoff=4)

    # Cp curves
    for pts, col in P['lo']:
        fig.add_trace(line_trace(pts, col, xr, yr))
    for pts, col in P['up']:
        w = 2.5 if (i == 3 and col == PURPLE) else 1.6
        fig.add_trace(line_trace(pts, col, xr, yr, width=w))
    bu, bl = P['base']
    fig.add_trace(line_trace(bu, BASEGRAY, xr, yr, width=2.2, dash='9px,4px'))
    fig.add_trace(line_trace(bl, BASEGRAY, xr, yr, width=2.2, dash='9px,4px'))
    mx, mcp, mc = P['mk']
    fig.add_trace(go.Scatter(x=mx, y=mcp, mode='markers', xaxis=xr, yaxis=yr, hoverinfo='skip',
                             marker=dict(size=9, color=mc, line=dict(color='black', width=1))))
    dx, dcp, dz = P['dia']
    fig.add_trace(go.Scatter(x=[dx], y=[dcp], mode='markers', xaxis=xr, yaxis=yr, hoverinfo='skip',
                             marker=dict(size=11, symbol='diamond', color='#5f5f5f', line=dict(color='black', width=1))))

    # airfoil geometry
    af_up, af_lo = P['af']
    fig.add_trace(go.Scatter(x=AF_X[::-1] + AF_X[1:], y=BASE_UP[::-1] + BASE_LO[1:], mode='lines', xaxis=zxr,
                             yaxis=zyr, hoverinfo='skip', line=dict(color=BASEGRAY, width=2.2, dash='9px,4px')))
    fig.add_trace(go.Scatter(x=AF_X[::-1] + AF_X[1:], y=af_up[::-1] + af_lo[1:], mode='lines', xaxis=zxr,
                             yaxis=zyr, hoverinfo='skip', line=dict(color='black', width=1.2)))
    zx, zz, zc = P['mkz']
    fig.add_trace(go.Scatter(x=zx, y=zz, mode='markers', xaxis=zxr, yaxis=zyr, hoverinfo='skip', cliponaxis=False,
                             marker=dict(size=9, color=zc, line=dict(color='black', width=1))))
    fig.add_trace(go.Scatter(x=[dx], y=[dz], mode='markers', xaxis=zxr, yaxis=zyr, hoverinfo='skip',
                             marker=dict(size=11, symbol='diamond', color='#5f5f5f', line=dict(color='black', width=1))))

    # the "0" tick label sits slightly right of its tick, as in the reference
    annotations.append(dict(text=X_ZERO_LABEL, x=(x0 + 7) / W, y=1 - (Z_ROWS[g][1] + 17) / H, xref='paper',
                            yref='paper', showarrow=False, xanchor='center', yanchor='middle',
                            font=dict(family=FONT, size=TICK_SIZE)))
    cx = (x0 + x1) / 2
    annotations.append(dict(text='<i>x</i>/<i>c</i>', x=cx / W, y=1 - (462 + g * 521) / H, xref='paper',
                            yref='paper', showarrow=False, xanchor='center', yanchor='middle',
                            font=dict(family=FONT, size=TEXT_SIZE)))
    annotations.append(dict(text=CAPTIONS[i], x=(cx + (3 if c == 2 and g == 0 else 0)) / W,
                            y=1 - (493 + g * 519) / H, xref='paper', yref='paper', showarrow=False,
                            xanchor='center', yanchor='middle', font=dict(family=FONT, size=TEXT_SIZE)))

for g in range(2):
    cp_mid = sum(CP_ROWS[g]) / 2
    z_mid = sum(Z_ROWS[g]) / 2
    annotations.append(dict(text='<i>C<sub>P</sub></i>', x=28 / W, y=1 - cp_mid / H, xref='paper', yref='paper',
                            showarrow=False, textangle=-90, xanchor='center', yanchor='middle',
                            font=dict(family=FONT, size=TEXT_SIZE)))
    annotations.append(dict(text='<i>z</i>/<i>c</i>', x=19 / W, y=1 - z_mid / H, xref='paper', yref='paper',
                            showarrow=False, textangle=-90, xanchor='center', yanchor='middle',
                            font=dict(family=FONT, size=TEXT_SIZE)))

annotations.append(dict(text='<i>e</i><sup><i>N</i></sup> method', x=383 / W, y=1 - 61.5 / H, xref='paper',
                        yref='paper', showarrow=False, xanchor='center', yanchor='middle', width=126, height=33,
                        borderpad=2, borderwidth=2, bordercolor='#8a8a8a', bgcolor='white',
                        font=dict(family=FONT, size=24)))
annotations.append(dict(text='DLR <i>γ</i> model', x=380 / W, y=1 - 581.5 / H, xref='paper', yref='paper',
                        showarrow=False, xanchor='center', yanchor='middle', width=138, height=33, borderpad=2,
                        borderwidth=2, bordercolor='#8a8a8a', bgcolor='white', font=dict(family=FONT, size=24)))

# thin separators of the composite figure
shapes.append(dict(type='line', xref='paper', yref='paper', x0=0, x1=1277 / W, y0=1 - 515 / H, y1=1 - 515 / H,
                   line=dict(color='#cfcfcf', width=1)))
shapes.append(dict(type='line', xref='paper', yref='paper', x0=1277 / W, x1=1277 / W, y0=0, y1=1,
                   line=dict(color='#cfcfcf', width=1)))
shapes.append(dict(type='line', xref='paper', yref='paper', x0=0, x1=1277 / W, y0=1 - 1002 / H, y1=1 - 1002 / H,
                   line=dict(color='#cfcfcf', width=1)))

layout['annotations'] = annotations
layout['shapes'] = shapes
fig.update_layout(**layout)
fig.write_html("out.html")
